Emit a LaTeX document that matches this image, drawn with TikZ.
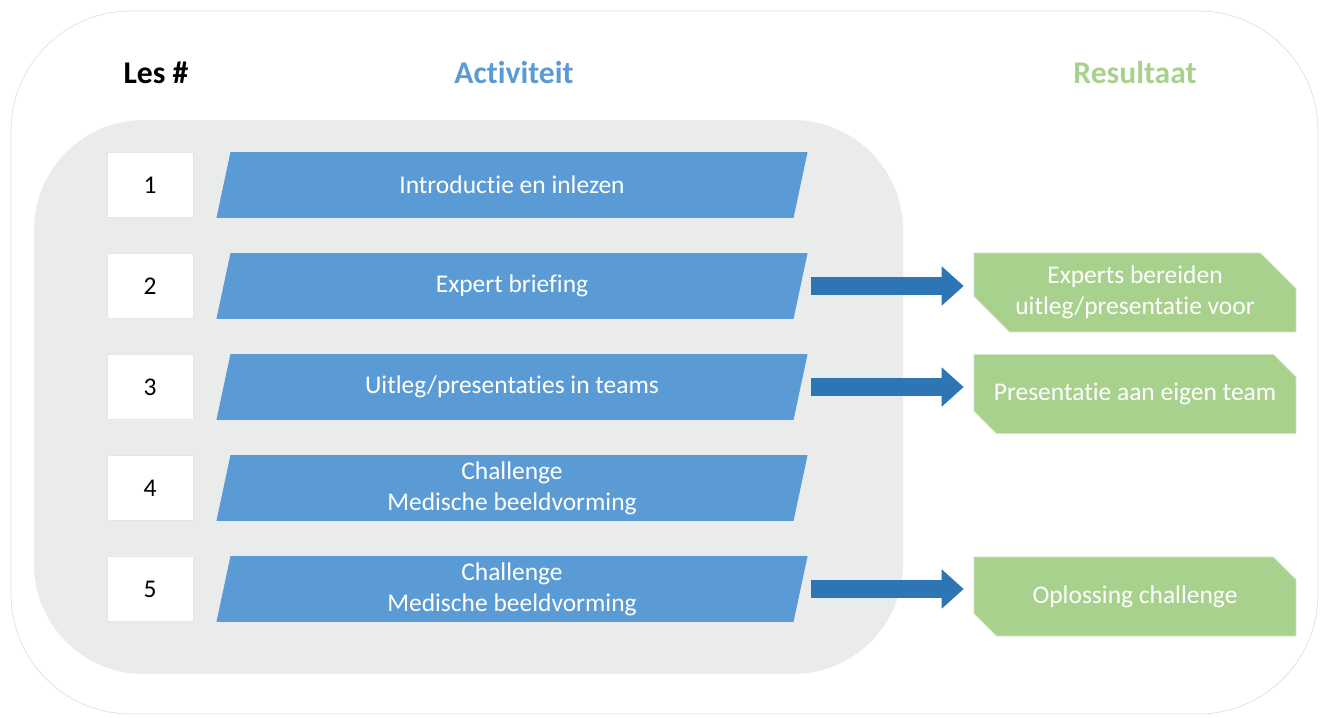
\documentclass[tikz,border=0pt]{standalone}
\usepackage{fontspec}
\setmainfont{Carlito}[Ligatures=NoCommon]
\usetikzlibrary{positioning, shapes.misc, arrows.meta, backgrounds}
\definecolor{actblue}{HTML}{5B9BD5}
\definecolor{arrowblue}{HTML}{2E75B6}
\definecolor{resgreen}{HTML}{A9D18E}
\definecolor{panelgray}{HTML}{EAEBEB}
\newcommand{\bodyfont}{\fontsize{14.5}{17.5}\selectfont}
\tikzset{
	header/.style={font=\fontsize{18}{22}\selectfont\bfseries},
	lesnr/.style={draw=gray!20, fill=white, minimum width=1.72cm, minimum height=1.3cm, font=\bodyfont},
	activity/.style={text=white, minimum width=11.53cm, minimum height=1.3cm,
		align=center, font=\bodyfont},
	result/.style={chamfered rectangle, chamfered rectangle corners={north east, south west},
		chamfered rectangle angle=45, chamfered rectangle xsep=0.6cm, inner xsep=0pt,
		fill=resgreen, draw=resgreen!55!white, text=white, minimum width=6.44cm,
		minimum height=1.58cm, align=center, font=\bodyfont},
	flow/.style={arrowblue, line width=0.36cm, -{Triangle[width=0.76cm, length=0.44cm]},
		shorten <=0.2cm, shorten >=0.2cm},
}

\begin{document}
\begin{tikzpicture}[x=0.02cm, y=-0.02cm]
	\useasboundingbox (0,0) rectangle (1321,717);

	% column heads
	\node[header] (les) at (156,73) {Les \#};
	\node[header, text=actblue] (act) at (514,73) {Activiteit};
	\node[header, text=resgreen] (res) at (1135,73) {Resultaat};

	% lessons
	\node[lesnr] (n1) at (150,185) {1};
	\node[lesnr] (n2) at (150,286) {2};
	\node[lesnr] (n3) at (150,387) {3};
	\node[lesnr] (n4) at (150,488) {4};
	\node[lesnr] (n5) at (150,589) {5};

	\node[activity] (act1) at (512,185) {Introductie en inlezen};
	\node[activity] (act2) at (512,286) {Expert briefing};
	\node[activity] (act3) at (512,387) {Uitleg/presentaties in teams};
	\node[activity] (act4) at (512,488) {Challenge\\Medische beeldvorming};
	\node[activity] (act5) at (512,589) {Challenge\\Medische beeldvorming};

	% outcomes
	\node[result] (res2) at (1135,292.5) {Experts bereiden\\uitleg/presentatie voor};
	\node[result] (res3) at (1135,394) {Presentatie aan eigen team};
	\node[result] (res5) at (1135,596.5) {Oplossing challenge};

	\draw[flow] (act2.east) -- (act2.east -| res2.west);
	\draw[flow] (act3.east) -- (act3.east -| res3.west);
	\draw[flow] (act5.east) -- (act5.east -| res5.west);

	% frames and slanted bars go underneath
	\begin{scope}[on background layer]
		\draw[gray!25, rounded corners=2.4cm] (11,11) rectangle (1318,714);
		\fill[panelgray, rounded corners=2.2cm] (34,120) rectangle (903,674);
		\foreach \i in {1,...,5}
			\fill[actblue] ([xshift=-0.14cm]act\i.south west) -- ([xshift=0.14cm]act\i.north west)
				-- ([xshift=0.14cm]act\i.north east) -- ([xshift=-0.14cm]act\i.south east) -- cycle;
	\end{scope}
\end{tikzpicture}
\end{document}
